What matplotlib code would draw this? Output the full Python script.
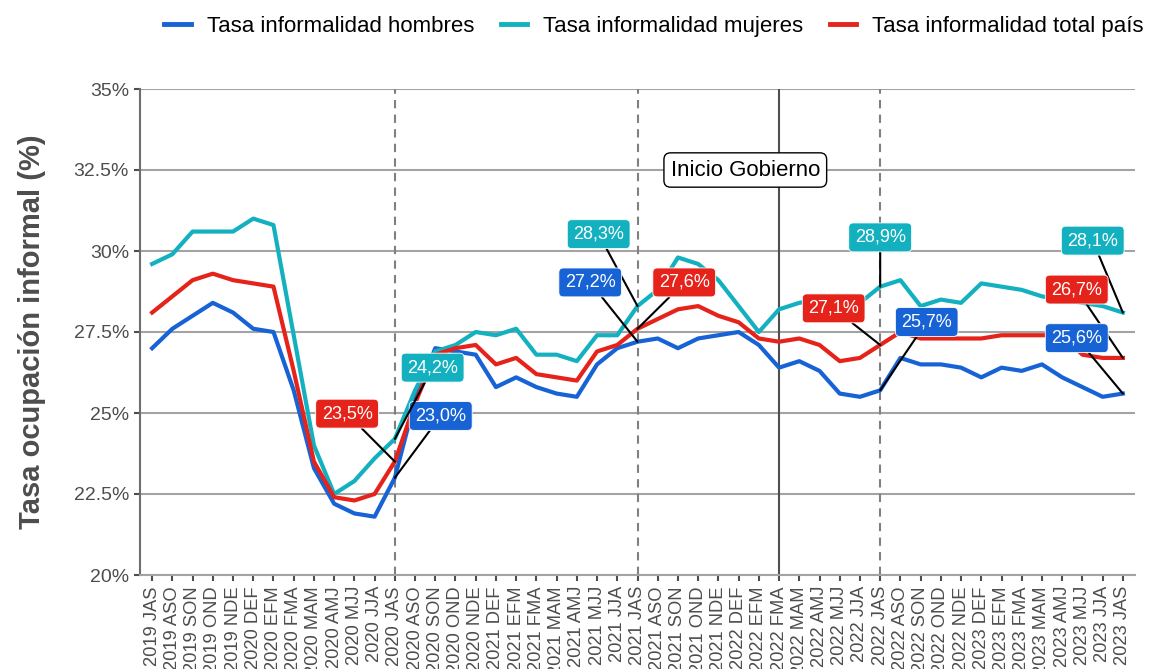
import matplotlib
matplotlib.use("Agg")
import matplotlib.pyplot as plt
from matplotlib.lines import Line2D

plt.rcParams['font.family'] = ['Liberation Sans', 'DejaVu Sans']

categories = [
    "2019 JAS", "2019 ASO", "2019 SON", "2019 OND", "2019 NDE",
    "2020 DEF", "2020 EFM", "2020 FMA", "2020 MAM", "2020 AMJ", "2020 MJJ", "2020 JJA",
    "2020 JAS", "2020 ASO", "2020 SON", "2020 OND", "2020 NDE",
    "2021 DEF", "2021 EFM", "2021 FMA", "2021 MAM", "2021 AMJ", "2021 MJJ", "2021 JJA",
    "2021 JAS", "2021 ASO", "2021 SON", "2021 OND", "2021 NDE",
    "2022 DEF", "2022 EFM", "2022 FMA", "2022 MAM", "2022 AMJ", "2022 MJJ", "2022 JJA",
    "2022 JAS", "2022 ASO", "2022 SON", "2022 OND", "2022 NDE",
    "2023 DEF", "2023 EFM", "2023 FMA", "2023 MAM", "2023 AMJ", "2023 MJJ", "2023 JJA",
    "2023 JAS",
]

hombres = [27.0, 27.6, 28.0, 28.4, 28.1, 27.6, 27.5, 25.7, 23.3, 22.2, 21.9, 21.8,
           23.0, 25.4, 27.0, 26.9, 26.8, 25.8, 26.1, 25.8, 25.6, 25.5, 26.5, 27.0,
           27.2, 27.3, 27.0, 27.3, 27.4, 27.5, 27.1, 26.4, 26.6, 26.3, 25.6, 25.5,
           25.7, 26.7, 26.5, 26.5, 26.4, 26.1, 26.4, 26.3, 26.5, 26.1, 25.8, 25.5,
           25.6]

mujeres = [29.6, 29.9, 30.6, 30.6, 30.6, 31.0, 30.8, 27.4, 24.0, 22.5, 22.9, 23.6,
           24.2, 25.7, 26.9, 27.1, 27.5, 27.4, 27.6, 26.8, 26.8, 26.6, 27.4, 27.4,
           28.3, 28.8, 29.8, 29.6, 29.1, 28.3, 27.5, 28.2, 28.4, 28.5, 28.4, 28.4,
           28.9, 29.1, 28.3, 28.5, 28.4, 29.0, 28.9, 28.8, 28.6, 28.5, 28.4, 28.3,
           28.1]

total = [28.1, 28.6, 29.1, 29.3, 29.1, 29.0, 28.9, 26.3, 23.5, 22.4, 22.3, 22.5,
         23.5, 25.3, 26.8, 27.0, 27.1, 26.5, 26.7, 26.2, 26.1, 26.0, 26.9, 27.1,
         27.6, 27.9, 28.2, 28.3, 28.0, 27.8, 27.3, 27.2, 27.3, 27.1, 26.6, 26.7,
         27.1, 27.5, 27.3, 27.3, 27.3, 27.3, 27.4, 27.4, 27.4, 27.4, 26.8, 26.7,
         26.7]

series_names = ["Tasa informalidad hombres", "Tasa informalidad mujeres",
                "Tasa informalidad total país"]
yticks = [20, 22.5, 25, 27.5, 30, 32.5, 35]
ytick_labels = ["20%", "22.5%", "25%", "27.5%", "30%", "32.5%", "35%"]

dashed_marks = ["2020 JAS", "2021 JAS", "2022 JAS"]
solid_mark = "2022 FMA"
annotation_text = "Inicio Gobierno"

C_BLUE = "#1763D6"
C_TEAL = "#13B1BF"
C_RED = "#E5231A"

fig = plt.figure(figsize=(11.49, 6.69), dpi=100)
ax = fig.add_axes([140 / 1149, 1 - 575 / 669, 995 / 1149, 486 / 669])

x = list(range(len(categories)))

ax.set_xlim(-0.6, len(categories) - 1 + 0.6)
ax.set_ylim(20, 35)

ax.set_yticks(yticks)
ax.set_yticklabels(ytick_labels)
ax.set_xticks(x)
ax.set_xticklabels(categories, rotation=90, ha="center", va="top")

ax.yaxis.grid(True, color="#a3a3a3", linewidth=1.5, zorder=0)
ax.set_axisbelow(True)
for s in ["top", "right"]:
    ax.spines[s].set_visible(False)
ax.spines["left"].set_color("#6e6e6e")
ax.spines["left"].set_linewidth(1.5)
ax.spines["bottom"].set_color("#a3a3a3")
ax.spines["bottom"].set_linewidth(1.5)
ax.tick_params(axis="both", length=4, width=1.5, color="#4d4d4d")
ax.tick_params(axis="y", labelsize=14, labelcolor="#4d4d4d", pad=4)
ax.tick_params(axis="x", labelsize=13.2, labelcolor="#4d4d4d", pad=4)

for c in dashed_marks:
    ax.axvline(categories.index(c), color="#808080", linewidth=1.5,
               dashes=(4, 3), zorder=1)
ax.axvline(categories.index(solid_mark), color="#4f4f4f", linewidth=1.5, zorder=1)

lw = 3.0
ax.plot(x, hombres, color=C_BLUE, linewidth=lw, zorder=3, solid_joinstyle="round")
ax.plot(x, mujeres, color=C_TEAL, linewidth=lw, zorder=3, solid_joinstyle="round")
ax.plot(x, total, color=C_RED, linewidth=lw, zorder=3, solid_joinstyle="round")

# label placements (data coordinates) for each labeled category
label_pos = {
    ("2020 JAS", "total"): (9.64, 24.98),
    ("2020 JAS", "hombres"): (14.27, 24.91),
    ("2020 JAS", "mujeres"): (13.87, 26.40),
    ("2021 JAS", "mujeres"): (22.08, 30.52),
    ("2021 JAS", "hombres"): (21.66, 29.03),
    ("2021 JAS", "total"): (26.31, 29.03),
    ("2022 JAS", "total"): (33.70, 28.23),
    ("2022 JAS", "mujeres"): (36.0, 30.42),
    ("2022 JAS", "hombres"): (38.30, 27.81),
    ("2023 JAS", "mujeres"): (46.51, 30.32),
    ("2023 JAS", "total"): (45.72, 28.81),
    ("2023 JAS", "hombres"): (45.72, 27.31),
}
series = {"hombres": (hombres, C_BLUE), "mujeres": (mujeres, C_TEAL),
          "total": (total, C_RED)}

for (cat, key), (lx, ly) in label_pos.items():
    i = categories.index(cat)
    vals, col = series[key]
    v = vals[i]
    txt = f"{v:.1f}%".replace(".", ",")
    ax.annotate(txt, xy=(i, v), xytext=(lx, ly), textcoords="data",
                ha="center", va="center", color="white", fontsize=13,
                bbox=dict(boxstyle="round,pad=0.33,rounding_size=0.25",
                          fc=col, ec="white", lw=0.6),
                arrowprops=dict(arrowstyle="-", color="black", lw=1.5,
                                shrinkA=0, shrinkB=0),
                zorder=6)

ax.text(29.33, 32.5, annotation_text, ha="center", va="center", fontsize=16,
        color="black", zorder=6,
        bbox=dict(boxstyle="round,pad=0.3,rounding_size=0.3", fc="white",
                  ec="black", lw=1.0))

ax.set_ylabel("Tasa ocupación informal (%)", fontsize=21, fontweight="bold",
              color="#4d4d4d")
ax.yaxis.set_label_coords(-(140 - 46) / 995, 0.5)

handles = [Line2D([0], [0], color=c, linewidth=3.5) for c in (C_BLUE, C_TEAL, C_RED)]
fig.legend(handles, series_names, loc="center", bbox_to_anchor=(0.569, 0.96),
           ncol=3, frameon=False, fontsize=16.0, handlelength=1.2,
           handletextpad=0.7, columnspacing=1.2)

fig.savefig("out.png", dpi=100)
